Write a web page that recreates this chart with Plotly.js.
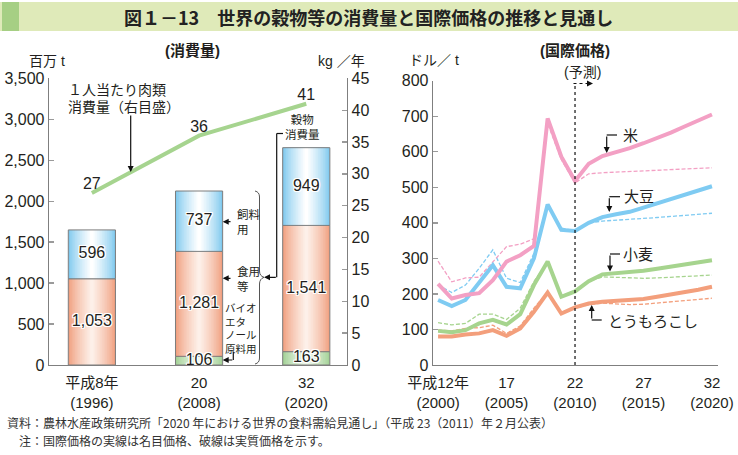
<!DOCTYPE html>
<html><head><meta charset="utf-8">
<script src="https://cdn.plot.ly/plotly-3.0.1.min.js"></script>
<style>html,body{margin:0;padding:0;background:#fff;} #chart{width:738px;height:455px;}</style>
</head><body><div id="chart"></div>
<script>
// ---- consumption (left panel) ----
const categories = ['平成8年<br>(1996)', '20<br>(2008)', '32<br>(2020)'];
const bioethanol = [0, 106, 163];
const foodUse = [1053, 1281, 1541];
const feedUse = [596, 737, 949];
const meatPerCapita = [27, 36, 41];

// ---- international prices (right panel), US$/t ----
const years = [2000,2001,2002,2003,2004,2005,2006,2007,2008,2009,2010,2011,2012,2013,2014,2015,2016,2017,2018,2019,2020];
const yearTickVals = [2000, 2005, 2010, 2015, 2020];
const yearTickText = ['平成12年<br>(2000)', '17<br>(2005)', '22<br>(2010)', '27<br>(2015)', '32<br>(2020)'];
const riceNominal  = [228,187,197,202,239,291,309,335,694,586,518,566,588,598,610,624,638,654,671,688,705];
const riceReal     = [292,234,245,247,290,333,340,355,680,578,512,538,541,543,545,547,549,550,552,553,555];
const soyNominal   = [183,166,183,232,281,220,216,300,452,380,377,400,416,424,431,443,455,467,479,491,503];
const soyReal      = [225,204,225,272,324,244,232,314,445,385,378,400,405,407,409,412,415,418,421,424,427];
const wheatNominal = [96,92,98,117,127,114,143,225,291,192,207,236,255,258,260,265,271,277,283,289,295];
const wheatReal    = [119,113,117,143,143,128,160,235,290,195,205,235,248,246,244,244,245,247,249,251,253];
const cornNominal  = [80,80,86,89,98,82,103,150,204,145,162,173,178,180,182,186,192,198,205,212,220];
const cornReal     = [98,96,103,105,112,89,110,160,205,147,160,170,174,172,170,171,174,177,180,184,188];

const W = 738, H = 455;
const px = x => x / W;
const py = y => 1 - y / H;
const FONT = 'Liberation Sans, Noto Sans CJK JP, sans-serif';
const JFONT = 'Noto Sans CJK JP, sans-serif';
const TXT = '#231f20';

function hexRgb(h){h=h.replace('#','');return [parseInt(h.substr(0,2),16),parseInt(h.substr(2,2),16),parseInt(h.substr(4,2),16)];}
function mix(a,b,t){const A=hexRgb(a),B=hexRgb(b);return 'rgb('+A.map((v,i)=>Math.round(v+(B[i]-v)*t)).join(',')+')';}

const traces = [];
const xs = [0,1,2];
const BW = 0.44;
const bioBase = xs.map(() => 0);
const foodBase = bioethanol.slice();
const feedBase = bioethanol.map((v,i) => v + foodUse[i]);
const nz = arr => arr.map(v => v > 0 ? v : null);

function gradientStack(values, bases, edge, center){
  const N = 14;
  for (let k = 0; k < N; k++) {
    const t = k/(N-1);
    traces.push({type:'bar', x: xs, y: nz(values), base: bases, width: BW*(1 - k/N),
      marker:{color: mix(edge, center, Math.pow(t,0.8)), line:{width:0}},
      xaxis:'x', yaxis:'y', hoverinfo:'skip', showlegend:false});
  }
  traces.push({type:'bar', x: xs, y: nz(values), base: bases, width: BW,
    marker:{color:'rgba(0,0,0,0)', line:{color:'#7d7d7d', width:1}},
    xaxis:'x', yaxis:'y', hoverinfo:'skip', showlegend:false});
}
gradientStack(bioethanol, bioBase, '#a3d196', '#eef8ea');
gradientStack(foodUse, foodBase, '#f0a080', '#fdf0e9');
gradientStack(feedUse, feedBase, '#80c9ee', '#ffffff');

const halo = '1px 0 0 #fff, -1px 0 0 #fff, 0 1px 0 #fff, 0 -1px 0 #fff, 1px 1px 0 #fff, -1px -1px 0 #fff, 1px -1px 0 #fff, -1px 1px 0 #fff';
function segLabels(values, bases){
  const idx = xs.filter(i => values[i] > 0);
  traces.push({type:'scatter', mode:'text', x: idx, y: idx.map(i => bases[i] + values[i]/2),
    text: idx.map(i => values[i].toLocaleString('en-US')),
    textfont:{family:FONT, size:16, color:TXT, shadow: halo},
    xaxis:'x', yaxis:'y', hoverinfo:'skip', showlegend:false, cliponaxis:false});
}
segLabels(bioethanol, bioBase);
segLabels(foodUse, foodBase);
segLabels(feedUse, feedBase);

traces.push({type:'scatter', mode:'lines+text', x: xs, y: meatPerCapita, text: meatPerCapita.map(String),
  textposition:'top center', textfont:{family:FONT, size:16, color:TXT},
  line:{color:'#a6d48f', width:4}, xaxis:'x', yaxis:'y2', hoverinfo:'skip', showlegend:false, cliponaxis:false});

// price lines
const series = [
  ['#f39f7c', cornReal, cornNominal],
  ['#a6d48e', wheatReal, wheatNominal],
  ['#7fcbf2', soyReal, soyNominal],
  ['#f3a0c4', riceReal, riceNominal]
];
series.forEach(([c, real, nom]) => {
  traces.push({type:'scatter', mode:'lines', x: years, y: real, line:{color:c, width:1.3, dash:'4px,2px'},
    xaxis:'x2', yaxis:'y3', hoverinfo:'skip', showlegend:false});
});
series.forEach(([c, real, nom]) => {
  traces.push({type:'scatter', mode:'lines', x: years, y: nom, line:{color:c, width:4},
    xaxis:'x2', yaxis:'y3', hoverinfo:'skip', showlegend:false});
});

const axisCommon = {showgrid:false, zeroline:false, showline:true, linecolor:'#7f7f7f', linewidth:1.3,
  tickfont:{family:FONT, size:16, color:TXT}, fixedrange:true};
const yTickCommon = Object.assign({}, axisCommon, {ticks:'inside', ticklen:5, tickcolor:'#9a9a9a', tickwidth:1.3});

const shapes = [];
const annotations = [];
function line(x0,y0,x1,y1,opt){shapes.push(Object.assign({type:'line', xref:'paper', yref:'paper', x0:px(x0), y0:py(y0), x1:px(x1), y1:py(y1), line:{color:'#111', width:1.2}}, opt||{}));}
function text(t, x, y, size, anchor, extra){annotations.push(Object.assign({text:t, xref:'paper', yref:'paper', x:px(x), y:py(y), xanchor:anchor||'center', yanchor:'middle', showarrow:false, font:{family:FONT, size:size, color:TXT}}, extra||{}));}
function arrow(tipX, tipY, tailX, tailY){annotations.push({text:'', xref:'paper', yref:'paper', x:px(tipX), y:py(tipY), ax:tailX-tipX, ay:tailY-tipY, showarrow:true, arrowhead:2, arrowsize:1, arrowwidth:1.2, arrowcolor:'#111', standoff:0, startstandoff:0, font:{size:2}});}

// header
shapes.push({type:'rect', xref:'paper', yref:'paper', x0:0, x1:1, y0:py(31), y1:py(2), fillcolor:'#dfeab9', line:{width:0}, layer:'below'});
shapes.push({type:'rect', xref:'paper', yref:'paper', x0:px(2), x1:px(19), y0:py(31), y1:py(2), fillcolor:'#a6cf84', line:{width:0}, layer:'below'});
text('図１－13　世界の穀物等の消費量と国際価格の推移と見通し', 368, 17, 18, 'center', {font:{family:JFONT, size:18, color:'#222', weight:'bold'}});

// panel titles & units
text('(消費量)', 193, 50.7, 15, 'center', {font:{family:FONT, size:15, color:TXT, weight:'bold'}});
text('(国際価格)', 575, 50.7, 15, 'center', {font:{family:FONT, size:15, color:TXT, weight:'bold'}});
text('百万 t', 46.7, 61, 14);
text('kg ／年', 341, 61, 14);
text('ドル／ t', 434, 60, 14);

// left annotations
text('１人当たり肉類', 66, 90, 14, 'left');
text('消費量（右目盛）', 66, 107, 14, 'left');
arrow(130.7, 172, 130.7, 114);
text('穀物<br>消費量', 283, 127, 11.5, 'left');
line(283, 133.5, 276.7, 133.5); line(276.7, 133.5, 276.7, 277.3);
arrow(264, 277.3, 277.3, 277.3);
shapes.push({type:'path', xref:'paper', yref:'paper', line:{color:'#555', width:1},
  path: `M ${px(255)},${py(191)} Q ${px(259.5)},${py(192)} ${px(259.5)},${py(197)} L ${px(259.5)},${py(271)} Q ${px(259.5)},${py(276)} ${px(264)},${py(277.3)} Q ${px(259.5)},${py(279)} ${px(259.5)},${py(284)} L ${px(259.5)},${py(358)} Q ${px(259.5)},${py(363)} ${px(255)},${py(364)}`});
text('飼料<br>用', 235, 221.5, 11.5, 'left', {align:'left'});
arrow(222.7, 221.7, 232, 221.7);
text('食用<br>等', 235, 279, 11.5, 'left', {align:'left'});
arrow(222.7, 278.3, 232, 278.3);
text('バイオ<br>エタ<br>ノール<br>原料用', 223, 328.5, 10.5, 'left', {align:'left'});
line(233.3, 352, 233.3, 360);
arrow(222.7, 360, 233.8, 360);

// right annotations
shapes.push({type:'line', xref:'x2', yref:'y3', x0:2010, x1:2010, y0:0, y1:793, line:{color:'#111', width:1.2, dash:'dot'}});
line(573.5, 83.5, 588, 83.5, {line:{color:'#111', width:1.2, dash:'dot'}});
arrow(593, 83.5, 588, 83.5);
text('(予測)', 582, 71.5, 14);
function elbow(tipX, tipY, cornerY, endX){ line(tipX, cornerY, endX, cornerY); arrow(tipX, tipY, tipX, cornerY); }
elbow(606.7, 153, 135, 617); text('米', 621, 135, 15, 'left');
elbow(609.3, 212, 196.7, 620); text('大豆', 622, 196.7, 15, 'left');
elbow(610, 271.5, 254, 620); text('小麦', 621, 254, 15, 'left');
elbow(591.7, 305, 320, 601.7); text('とうもろこし', 606, 321, 15, 'left');

// footer
text('資料：農林水産政策研究所「2020 年における世界の食料需給見通し」（平成 23（2011）年２月公表）', 5, 422, 12, 'left', {font:{family:JFONT, size:12, color:'#333'}});
text('　注：国際価格の実線は名目価格、破線は実質価格を示す。', 5, 440.5, 12, 'left', {font:{family:JFONT, size:12, color:'#333'}});

const layout = {
  width: W, height: H, autosize:false, margin:{l:0, r:0, t:0, b:0},
  paper_bgcolor:'#fff', plot_bgcolor:'rgba(0,0,0,0)', barmode:'overlay', showlegend:false,
  font:{family:FONT, color:TXT},
  xaxis: Object.assign({}, axisCommon, {domain:[px(49), px(347)], range:[-0.4, 2.38], anchor:'y',
    tickmode:'array', tickvals: xs, ticktext: categories, ticks:'', ticklabelstandoff:4, tickfont:{family:FONT, size:15, color:TXT}}),
  yaxis: Object.assign({}, yTickCommon, {domain:[py(365), py(78.3)], range:[0,3500], dtick:500, tickformat:',d', anchor:'x'}),
  yaxis2: Object.assign({}, yTickCommon, {overlaying:'y', side:'right', range:[0,45], dtick:5, anchor:'x'}),
  xaxis2: Object.assign({}, axisCommon, {domain:[px(433), px(718)], range:[1999.63, 2020.44], anchor:'y3',
    tickmode:'array', tickvals: yearTickVals, ticktext: yearTickText, ticks:'', ticklabelstandoff:4, tickfont:{family:FONT, size:15, color:TXT}}),
  yaxis3: Object.assign({}, yTickCommon, {domain:[py(365), py(80.7)], range:[0,800], dtick:100, anchor:'x2'}),
  shapes: shapes, annotations: annotations
};
Plotly.newPlot('chart', traces, layout, {staticPlot:true, displayModeBar:false});
</script></body></html>
